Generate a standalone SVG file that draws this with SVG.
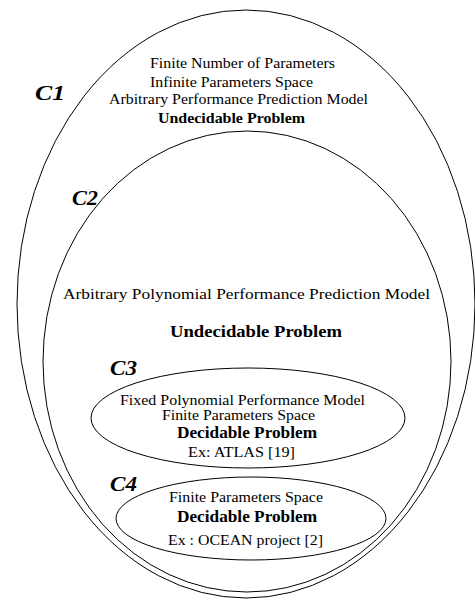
<svg xmlns="http://www.w3.org/2000/svg" width="475" height="600" viewBox="0 0 475 600">
<style>
.e{fill:none;stroke:#000;stroke-width:1}
text{font-family:"Liberation Serif","Times New Roman",serif;fill:#000;text-anchor:middle}
.t{font-size:15.5px}
.s{font-size:14px}
.b{font-size:15.5px;font-weight:bold}
.bb{font-size:17.5px;font-weight:bold}
.lab{font-size:20px;font-weight:bold;font-style:italic;text-anchor:start}
</style>
<rect width="475" height="600" fill="#fff"/>
<g id="C1">
<ellipse class="e" cx="246" cy="304" rx="229" ry="294"/>
<text class="lab" x="35" y="100" textLength="30" lengthAdjust="spacingAndGlyphs">C1</text>
<text class="t" x="242.5" y="68" textLength="185" lengthAdjust="spacingAndGlyphs">Finite Number of Parameters</text>
<text class="t" x="231.5" y="87" textLength="163" lengthAdjust="spacingAndGlyphs">Infinite Parameters Space</text>
<text class="t" x="238.5" y="104" textLength="259" lengthAdjust="spacingAndGlyphs">Arbitrary Performance Prediction Model</text>
<text class="b" x="231.5" y="123" textLength="147" lengthAdjust="spacingAndGlyphs">Undecidable Problem</text>
</g>
<g id="C2">
<ellipse class="e" cx="247" cy="361.5" rx="204" ry="230.5"/>
<text class="lab" x="72" y="205" textLength="26" lengthAdjust="spacingAndGlyphs">C2</text>
<text class="t" x="246.5" y="299" textLength="367" lengthAdjust="spacingAndGlyphs">Arbitrary Polynomial Performance Prediction Model</text>
<text class="bb" x="256" y="337" textLength="172" lengthAdjust="spacingAndGlyphs">Undecidable Problem</text>
</g>
<g id="C3">
<ellipse class="e" cx="248" cy="418" rx="157" ry="50"/>
<text class="lab" x="110" y="375" textLength="27" lengthAdjust="spacingAndGlyphs">C3</text>
<text class="s" x="242.5" y="405" textLength="245" lengthAdjust="spacingAndGlyphs">Fixed Polynomial Performance Model</text>
<text class="s" x="238.5" y="420" textLength="153" lengthAdjust="spacingAndGlyphs">Finite Parameters Space</text>
<text class="bb" x="247" y="438" textLength="140" lengthAdjust="spacingAndGlyphs">Decidable Problem</text>
<text class="t" x="241.5" y="457" textLength="107" lengthAdjust="spacingAndGlyphs">Ex: ATLAS [19]</text>
</g>
<g id="C4">
<ellipse class="e" cx="251" cy="518.5" rx="135" ry="41.5"/>
<text class="lab" x="110" y="491" textLength="27" lengthAdjust="spacingAndGlyphs">C4</text>
<text class="t" x="246" y="502" textLength="154" lengthAdjust="spacingAndGlyphs">Finite Parameters Space</text>
<text class="bb" x="247" y="522" textLength="140" lengthAdjust="spacingAndGlyphs">Decidable Problem</text>
<text class="t" x="245.5" y="545" textLength="155" lengthAdjust="spacingAndGlyphs">Ex : OCEAN project [2]</text>
</g>
<g id="connectors"/>
</svg>
